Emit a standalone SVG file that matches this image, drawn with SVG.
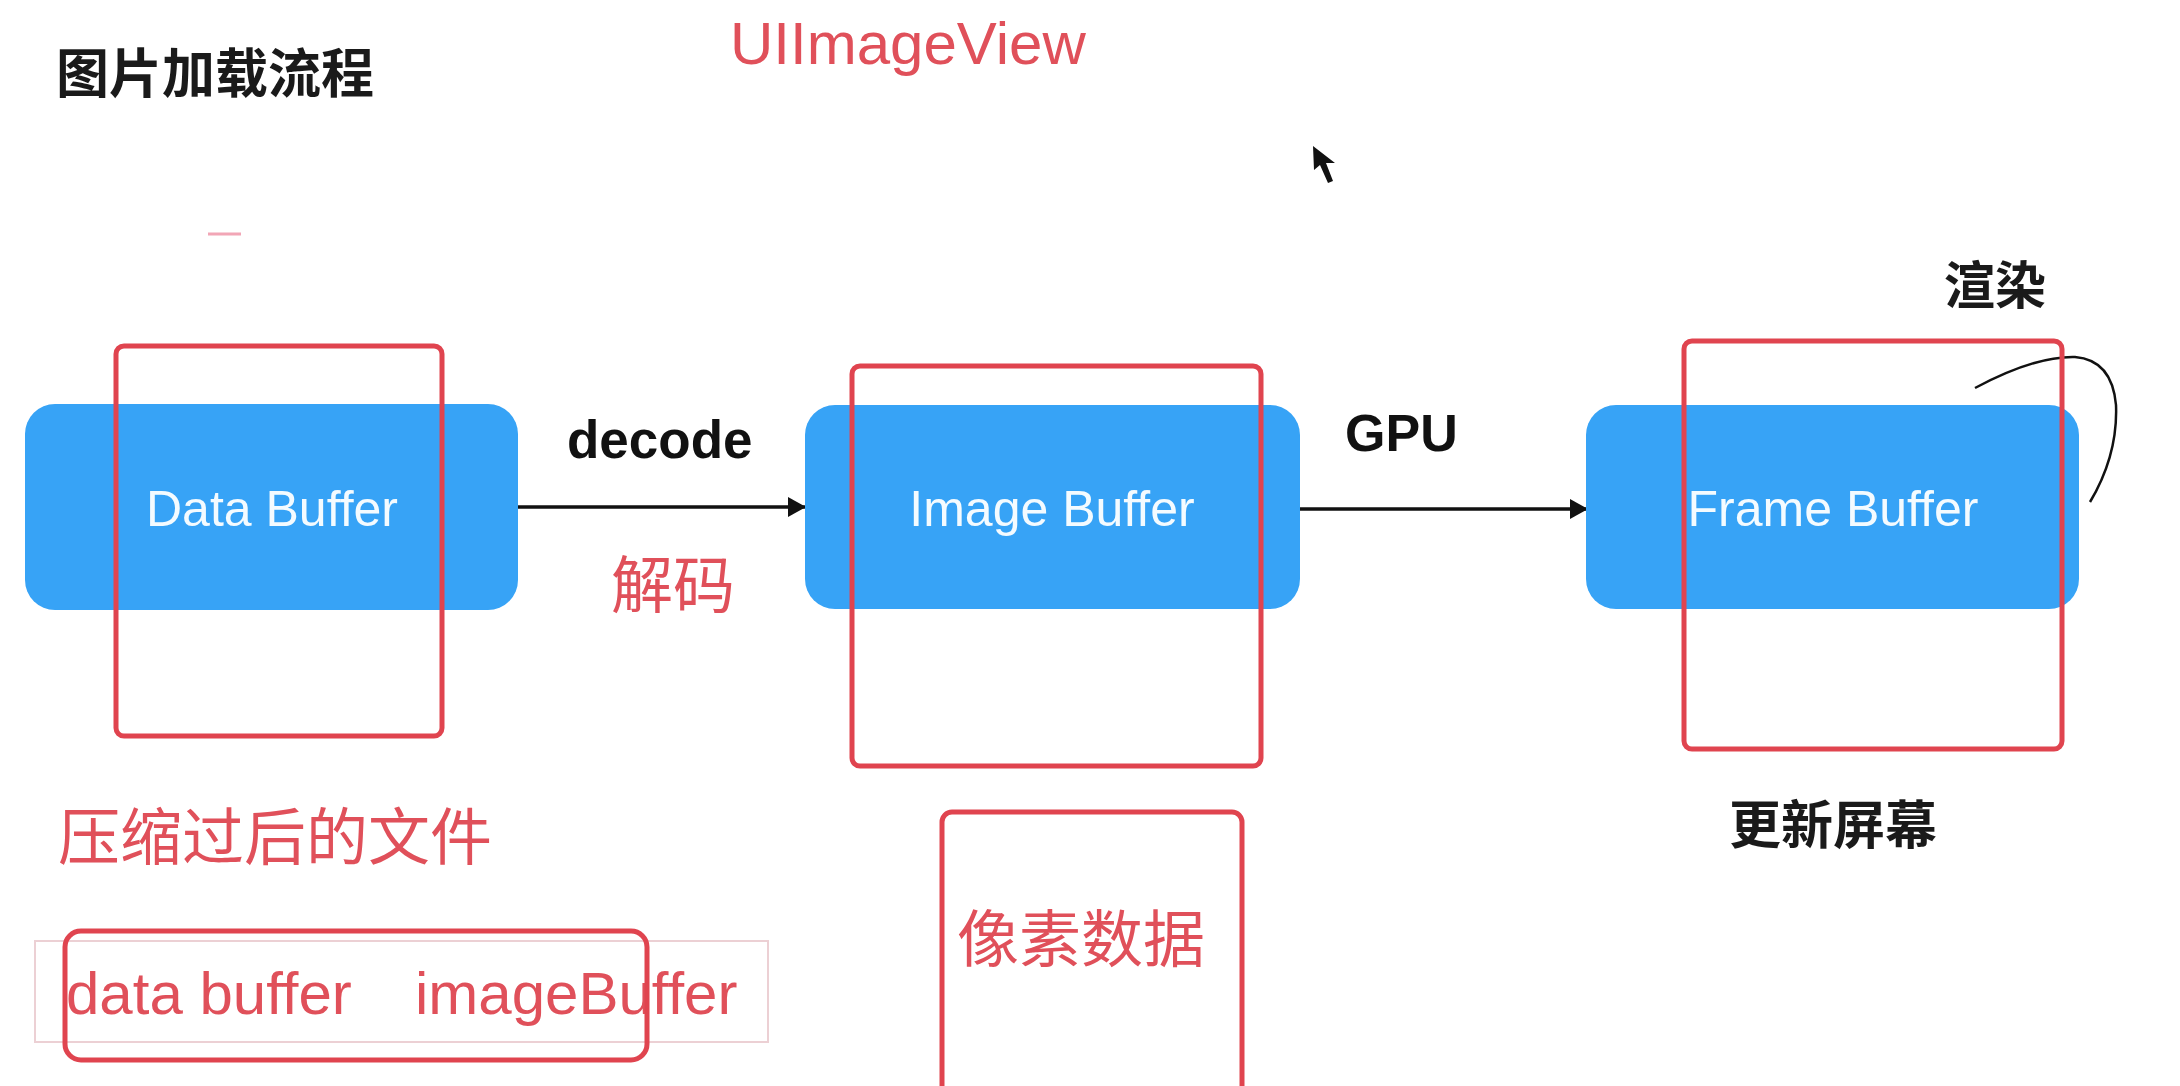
<svg xmlns="http://www.w3.org/2000/svg" width="2180" height="1086" viewBox="0 0 2180 1086">
<defs>
<style>
.bg{fill:#ffffff}
.node{fill:#37a3f6}
.red{fill:none;stroke:#e0444f;stroke-width:5}
.nl{font-family:"Liberation Sans",Arial,sans-serif;font-size:50px;fill:#f4fbff;text-anchor:middle}
.blk{font-family:"Liberation Sans","Noto Sans CJK SC",sans-serif;font-weight:bold;fill:#111111}
.cjkb{font-family:"Noto Sans CJK SC",sans-serif;font-weight:bold;fill:#1a1a1a}
.cjkr{font-family:"Noto Sans CJK SC",sans-serif;fill:#e0505a}
.latr{font-family:"Liberation Sans",Arial,sans-serif;fill:#e0505a}
.conn{stroke:#111111;stroke-width:3.5;fill:none}
</style>
<marker id="ah" markerWidth="20" markerHeight="20" refX="18" refY="10" orient="auto" markerUnits="userSpaceOnUse">
<path d="M0,0 L18,10 L0,20 Z" fill="#111111"/>
</marker>
</defs>
<rect class="bg" x="0" y="0" width="2180" height="1086"/>

<g id="title">
<text class="cjkb" x="56" y="93" font-size="53">图片加载流程</text>
</g>
<g id="uiimageview-label">
<text class="latr" x="730" y="64" font-size="60">UIImageView</text>
</g>
<line x1="208" y1="234" x2="241" y2="234" stroke="#f2a6b6" stroke-width="3"/>

<g id="cursor">
<path d="M1313,146 L1314,170 L1320,165 L1328,183 L1333,181 L1326,163 L1335,163 Z" fill="#111111"/>
</g>

<g id="connectors">
<line class="conn" x1="516" y1="507" x2="806" y2="507" marker-end="url(#ah)"/>
<line class="conn" x1="1299" y1="509" x2="1588" y2="509" marker-end="url(#ah)"/>
<path d="M1975,388 Q2035,356 2075,357 Q2112,360 2116,405 Q2118,455 2090,502" fill="none" stroke="#111111" stroke-width="2.5"/>
</g>

<g id="data-buffer">
<rect class="node" x="25" y="404" width="493" height="206" rx="30"/>
<text class="nl" x="272" y="526">Data Buffer</text>
<rect class="red" x="116" y="346" width="326" height="390" rx="8"/>
</g>

<g id="image-buffer">
<rect class="node" x="805" y="405" width="495" height="204" rx="30"/>
<text class="nl" x="1052" y="526">Image Buffer</text>
<rect class="red" x="852" y="366" width="409" height="400" rx="8"/>
</g>

<g id="frame-buffer">
<rect class="node" x="1586" y="405" width="493" height="204" rx="30"/>
<text class="nl" x="1833" y="526">Frame Buffer</text>
<rect class="red" x="1684" y="341" width="378" height="408" rx="8"/>
</g>

<g id="labels">
<text class="blk" x="567" y="458" font-size="53">decode</text>
<text class="cjkr" x="611" y="608" font-size="62">解码</text>
<text class="blk" x="1345" y="451" font-size="52">GPU</text>
<text class="cjkb" x="1944" y="304" font-size="51">渲染</text>
<text class="cjkb" x="1729" y="844" font-size="52">更新屏幕</text>
<text class="cjkr" x="58" y="860" font-size="62">压缩过后的文件</text>
</g>

<g id="buffers-note">
<rect x="35" y="941" width="733" height="101" fill="none" stroke="#ecd0d4" stroke-width="2"/>
<text class="latr" x="66" y="1014" font-size="60"><tspan>data buffer </tspan><tspan x="415">imageBuffer</tspan></text>
<rect class="red" x="65" y="931" width="582" height="129" rx="16"/>
</g>

<g id="pixel-data">
<rect class="red" x="942" y="812" width="300" height="300" rx="10"/>
<text class="cjkr" x="957" y="962" font-size="62">像素数据</text>
</g>
</svg>
